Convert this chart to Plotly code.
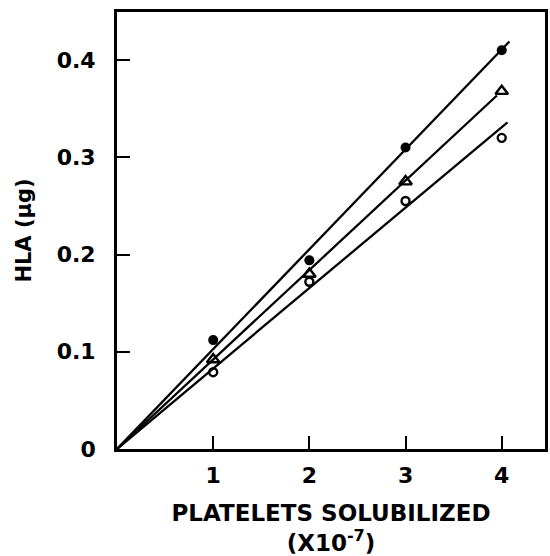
import plotly.graph_objects as go

# Data
platelets = [1, 2, 3, 4]
hla_filled = [0.112, 0.194, 0.310, 0.410]
hla_triangle = [0.092, 0.180, 0.275, 0.368]
hla_open = [0.079, 0.172, 0.255, 0.320]

# Fitted lines (through origin)
fit_filled_x = [0, 4.08]
fit_filled_y = [0, 0.419]
fit_triangle_x = [0, 3.95]
fit_triangle_y = [0, 0.3635]
fit_open_x = [0, 4.06]
fit_open_y = [0, 0.336]

x_ticks = [1, 2, 3, 4]
x_ticklabels = ["1", "2", "3", "4"]
y_ticks = [0, 0.1, 0.2, 0.3, 0.4]
y_ticklabels = ["0", "0.1", "0.2", "0.3", "0.4"]

FONT = "DejaVu Sans"
fig = go.Figure()

for fx, fy in [(fit_filled_x, fit_filled_y), (fit_triangle_x, fit_triangle_y), (fit_open_x, fit_open_y)]:
    fig.add_trace(go.Scatter(x=fx, y=fy, mode="lines",
                             line=dict(color="black", width=2.3), showlegend=False, hoverinfo="skip"))

fig.add_trace(go.Scatter(x=platelets, y=hla_filled, mode="markers",
                         marker=dict(symbol="circle", size=10, color="black"), showlegend=False))
fig.add_trace(go.Scatter(x=platelets, y=hla_triangle, mode="markers",
                         marker=dict(symbol="triangle-up-open", size=11, color="black", line=dict(width=2.4)),
                         showlegend=False))
fig.add_trace(go.Scatter(x=platelets, y=hla_open, mode="markers",
                         marker=dict(symbol="circle-open", size=8, color="black", line=dict(width=2.4)),
                         showlegend=False))

fig.update_layout(
    width=550, height=556,
    margin=dict(l=117, r=2, t=12, b=105),
    paper_bgcolor="white", plot_bgcolor="white",
    font=dict(family=FONT, color="black", size=22, weight="bold"),
    xaxis=dict(
        range=[0, 4.45], tickvals=x_ticks, ticktext=x_ticklabels,
        ticks="inside", ticklen=13, tickwidth=2.2, tickcolor="black",
        showline=True, linewidth=2.8, linecolor="black", mirror=True,
        showgrid=False, zeroline=False, ticklabelstandoff=5,
        tickfont=dict(family=FONT, size=22, weight="bold"),
        title=dict(text="PLATELETS SOLUBILIZED<br>(X10<sup>-7</sup>)",
                   font=dict(family=FONT, size=23, weight="bold"), standoff=20),
    ),
    yaxis=dict(
        range=[0, 0.4494], tickvals=y_ticks, ticktext=y_ticklabels,
        ticks="inside", ticklen=13, tickwidth=2.2, tickcolor="black",
        showline=True, linewidth=2.8, linecolor="black", mirror=True,
        showgrid=False, zeroline=False, ticklabelstandoff=14,
        tickfont=dict(family=FONT, size=22, weight="bold"),
        title=dict(text="HLA (μg)", font=dict(family=FONT, size=21, weight="bold"), standoff=20),
    ),
)

fig.write_html("out.html")
